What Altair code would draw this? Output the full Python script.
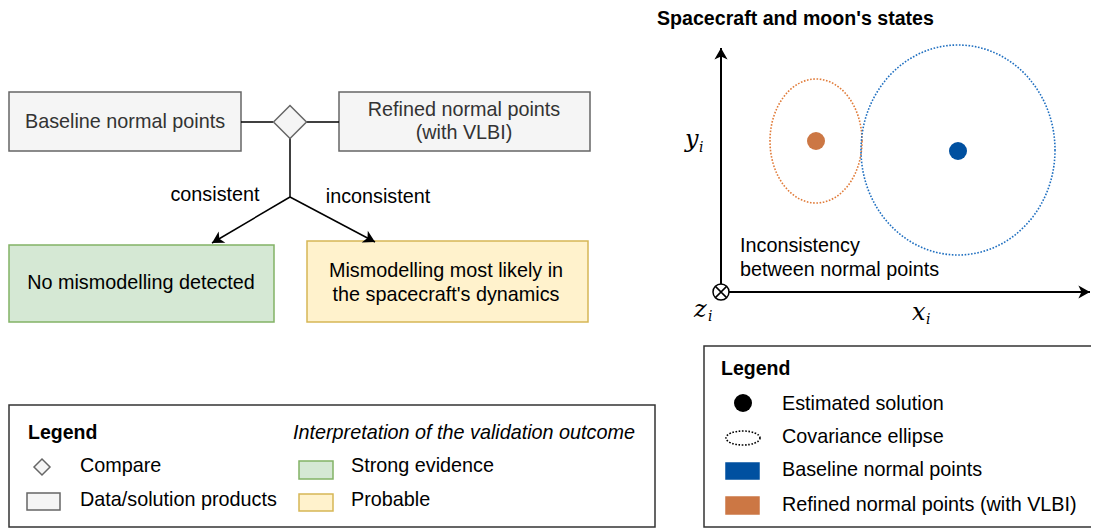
import math
import altair as alt
import pandas as pd

FONT = "Liberation Sans"
SERIF = "DejaVu Serif"

# ---------------- boxes (x1, x2, y1, y2) ----------------
box_names = ["baseline", "refined", "green", "yellow", "legendL", "legData", "legGreen",
             "legYellow", "legendR", "legBlue", "legOrange"]
box_x1 = [9, 339, 9, 307, 9, 27, 299, 299, 704, 726, 726]
box_x2 = [241, 590, 274, 588, 655, 60, 333, 333, 1110, 759, 759]
box_y1 = [92, 92, 245, 241, 405, 493, 461, 494, 346, 463, 497]
box_y2 = [151, 151, 322, 322, 527, 510, 479, 511, 527, 479, 514]
box_fill = ["#f5f5f5", "#f5f5f5", "#d5e8d4", "#fff2cc", "#ffffff", "#f5f5f5", "#d5e8d4",
            "#fff2cc", "#ffffff", "#0050a0", "#cc7744"]
box_stroke = ["#666666", "#666666", "#82b366", "#d6b656", "#333333", "#666666", "#82b366",
              "#d6b656", "#333333", "#0050a0", "#cc7744"]

# ---------------- connector lines ----------------
line_x1 = [241, 306, 290, 290, 290, 721, 721]
line_y1 = [122, 122, 138, 197, 197, 292, 292]
line_x2 = [273, 339, 290, 212, 375, 721, 1090]
line_y2 = [122, 122, 197, 243, 242, 48, 292]
line_w = [1.5, 1.5, 1.5, 1.5, 1.5, 2, 2]
line_arrow = [False, False, False, True, True, True, True]

# ---------------- symbols ----------------
dot_x = [816, 958, 743]
dot_y = [141, 151, 403]
dot_color = ["#cc7744", "#0050a0", "#000000"]

diamond_x = [290, 42]
diamond_y = [122, 467]
diamond_half = [16.5, 8]

ell_x = [816, 958, 743]
ell_y = [141, 150, 438]
ell_rx = [46, 97, 17]
ell_ry = [62, 105, 7]
ell_color = ["#e07b39", "#1f6fc0", "#000000"]

origin_x, origin_y = 721, 292

# ---------------- texts ----------------
FS = 19.8
txt = [
    # text, x, y, size, align, color
    ("Baseline normal points", 125, 122, FS, "center", "#333333"),
    ("Refined normal points", 464, 110, FS, "center", "#333333"),
    ("(with VLBI)", 464, 133, FS, "center", "#333333"),
    ("consistent", 215, 195, FS, "center", "#000000"),
    ("inconsistent", 378, 197, FS, "center", "#000000"),
    ("No mismodelling detected", 141, 283, FS, "center", "#000000"),
    ("Mismodelling most likely in", 446, 271, FS, "center", "#000000"),
    ("the spacecraft's dynamics", 446, 295, FS, "center", "#000000"),
    ("Compare", 80, 466, FS, "left", "#000000"),
    ("Data/solution products", 80, 500, FS, "left", "#000000"),
    ("Strong evidence", 351, 466, FS, "left", "#000000"),
    ("Probable", 351, 500, FS, "left", "#000000"),
    ("Inconsistency", 740, 246, FS, "left", "#000000"),
    ("between normal points", 740, 270, FS, "left", "#000000"),
    ("Estimated solution", 782, 404, FS, "left", "#000000"),
    ("Covariance ellipse", 782, 437, FS, "left", "#000000"),
    ("Baseline normal points", 782, 470, FS, "left", "#000000"),
    ("Refined normal points (with VLBI)", 782, 505, FS, "left", "#000000"),
]
bold_txt = [
    ("Legend", 28, 433, 19.5),
    ("Legend", 721, 369, 19.5),
    ("Spacecraft and moon's states", 657, 19, 19.6),
]
italic_txt = [
    ("Interpretation of the validation outcome", 293, 433, FS),
]
math_txt = [
    ("y", 685, 140, 24), ("i", 699, 148, 14),
    ("x", 912, 313, 24), ("i", 926, 320, 14),
    ("z", 694, 310, 24), ("i", 708, 317, 14),
]

W, H = 1083, 521
X = alt.Scale(domain=[8, 1091], nice=False, zero=False)
Y = alt.Scale(domain=[8, 529], nice=False, zero=False, reverse=True)
ax = None

boxes = pd.DataFrame(dict(name=box_names, x1=box_x1, x2=box_x2, y1=box_y1, y2=box_y2,
                          fill=box_fill, stroke=box_stroke))
rects = alt.Chart(boxes).mark_rect(strokeWidth=1.5).encode(
    x=alt.X("x1:Q", scale=X, axis=ax), x2="x2:Q",
    y=alt.Y("y1:Q", scale=Y, axis=ax), y2="y2:Q",
    fill=alt.Fill("fill:N", scale=None), stroke=alt.Stroke("stroke:N", scale=None),
)

lines = pd.DataFrame(dict(x1=line_x1, y1=line_y1, x2=line_x2, y2=line_y2, w=line_w))
rules = alt.Chart(lines).mark_rule(color="black").encode(
    x=alt.X("x1:Q", scale=X, axis=ax), x2="x2:Q",
    y=alt.Y("y1:Q", scale=Y, axis=ax), y2="y2:Q",
    strokeWidth=alt.StrokeWidth("w:Q", scale=None),
)

# arrow heads at the line ends, oriented along each line
heads = []
for a, x1, y1, x2, y2 in zip(line_arrow, line_x1, line_y1, line_x2, line_y2):
    if a:
        ang = math.degrees(math.atan2(x2 - x1, -(y2 - y1))) % 360
        heads.append(dict(x=x2, y=y2, angle=ang))
ARROW = "M0,0 L-0.85,1.5 L0,1.1 L0.85,1.5 Z"
arrow = alt.Chart(pd.DataFrame(heads)).mark_point(
    shape=ARROW, filled=True, color="black", opacity=1, size=240).encode(
    x=alt.X("x:Q", scale=X, axis=ax), y=alt.Y("y:Q", scale=Y, axis=ax),
    angle=alt.Angle("angle:Q", scale=None),
)

dots = alt.Chart(pd.DataFrame(dict(x=dot_x, y=dot_y, c=dot_color))).mark_point(
    shape="circle", filled=True, opacity=1, size=324, strokeWidth=0).encode(
    x=alt.X("x:Q", scale=X, axis=ax), y=alt.Y("y:Q", scale=Y, axis=ax),
    color=alt.Color("c:N", scale=None),
)

diamonds = alt.Chart(pd.DataFrame(dict(x=diamond_x, y=diamond_y,
                                       s=[(2 * h) ** 2 for h in diamond_half]))).mark_point(
    shape="diamond", filled=True, fill="#f5f5f5", stroke="#666666", strokeWidth=1.5,
    opacity=1).encode(
    x=alt.X("x:Q", scale=X, axis=ax), y=alt.Y("y:Q", scale=Y, axis=ax),
    size=alt.Size("s:Q", scale=None),
)

ell_rows = []
k = 0.5523
for x, y, rx, ry, c in zip(ell_x, ell_y, ell_rx, ell_ry, ell_color):
    r = max(rx, ry)
    a, b = rx / r, ry / r
    p = (f"M{a},0 C{a},{k*b} {k*a},{b} 0,{b} C{-k*a},{b} {-a},{k*b} {-a},0 "
         f"C{-a},{-k*b} {-k*a},{-b} 0,{-b} C{k*a},{-b} {a},{-k*b} {a},0 Z")
    ell_rows.append(dict(x=x, y=y, shape=p, s=(2 * r) ** 2, c=c))
ellipses = alt.Chart(pd.DataFrame(ell_rows)).mark_point(
    filled=False, strokeWidth=1.6, strokeDash=[1.6, 1.6], opacity=1).encode(
    x=alt.X("x:Q", scale=X, axis=ax), y=alt.Y("y:Q", scale=Y, axis=ax),
    shape=alt.Shape("shape:N", scale=None), size=alt.Size("s:Q", scale=None),
    stroke=alt.Stroke("c:N", scale=None),
)

origin_df = pd.DataFrame(dict(x=[origin_x], y=[origin_y]))
origin_c = alt.Chart(origin_df).mark_point(
    shape="circle", filled=True, fill="white", stroke="black", strokeWidth=1.5,
    opacity=1, size=256).encode(
    x=alt.X("x:Q", scale=X, axis=ax), y=alt.Y("y:Q", scale=Y, axis=ax))
origin_x_mark = alt.Chart(origin_df).mark_point(
    shape="M-0.7,-0.7L0.7,0.7M-0.7,0.7L0.7,-0.7", filled=False, stroke="black",
    strokeWidth=1.5, opacity=1, size=256).encode(
    x=alt.X("x:Q", scale=X, axis=ax), y=alt.Y("y:Q", scale=Y, axis=ax))

tdf = pd.DataFrame(txt, columns=["t", "x", "y", "s", "al", "c"])
text_layers = []
for al in ["center", "left"]:
    sub = tdf[tdf.al == al]
    text_layers.append(alt.Chart(sub).mark_text(font=FONT, align=al, baseline="middle").encode(
        x=alt.X("x:Q", scale=X, axis=ax), y=alt.Y("y:Q", scale=Y, axis=ax),
        text="t:N", size=alt.Size("s:Q", scale=None), color=alt.Color("c:N", scale=None)))

bdf = pd.DataFrame(bold_txt, columns=["t", "x", "y", "s"])
text_layers.append(alt.Chart(bdf).mark_text(font=FONT, fontWeight="bold", align="left",
                                             baseline="middle", color="black").encode(
    x=alt.X("x:Q", scale=X, axis=ax), y=alt.Y("y:Q", scale=Y, axis=ax),
    text="t:N", size=alt.Size("s:Q", scale=None)))
idf = pd.DataFrame(italic_txt, columns=["t", "x", "y", "s"])
text_layers.append(alt.Chart(idf).mark_text(font=FONT, fontStyle="italic", align="left",
                                             baseline="middle", color="black").encode(
    x=alt.X("x:Q", scale=X, axis=ax), y=alt.Y("y:Q", scale=Y, axis=ax),
    text="t:N", size=alt.Size("s:Q", scale=None)))
mdf = pd.DataFrame(math_txt, columns=["t", "x", "y", "s"])
text_layers.append(alt.Chart(mdf).mark_text(font=SERIF, fontStyle="italic", align="left",
                                             baseline="middle", color="black").encode(
    x=alt.X("x:Q", scale=X, axis=ax), y=alt.Y("y:Q", scale=Y, axis=ax),
    text="t:N", size=alt.Size("s:Q", scale=None)))

chart = alt.layer(rects, rules, arrow, diamonds, ellipses, dots, origin_c, origin_x_mark,
                  *text_layers).properties(
    width=W, height=H, padding=0, autosize=alt.AutoSizeParams(type="none"),
    background="white",
).configure_view(stroke=None)

chart.save("out.html", embed_options={"renderer": "svg", "actions": False})
